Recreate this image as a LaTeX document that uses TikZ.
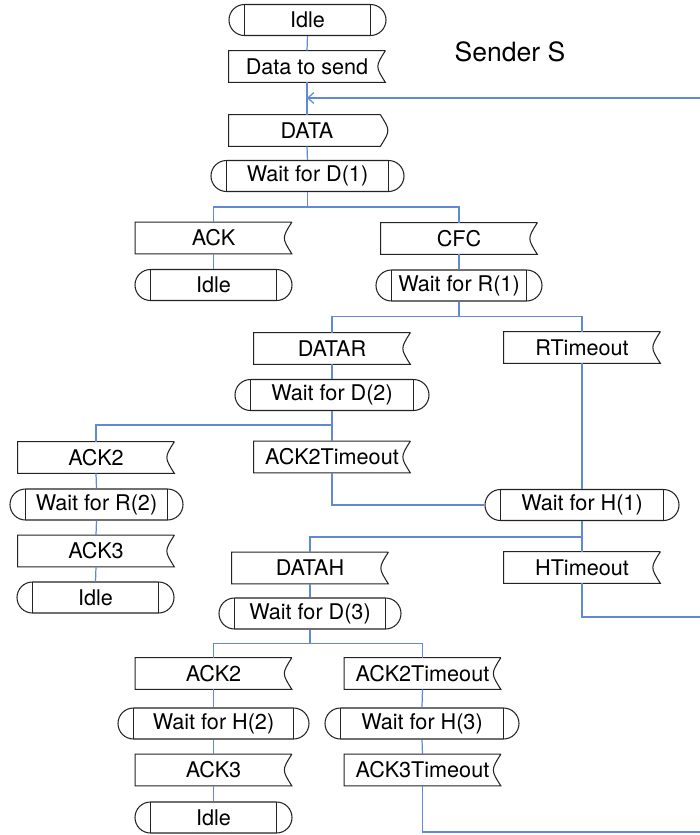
\documentclass[tikz,border=0pt]{standalone}
\usepackage{fontspec}
\setmainfont{TeX Gyre Heros}
\usepackage{tikz}
\usetikzlibrary{arrows.meta,calc,shapes.misc}
\definecolor{linkblue}{RGB}{96,138,216}
\definecolor{outline}{RGB}{35,35,35}

\tikzset{
  every node/.style={font=\fontsize{12.3}{14}\selectfont},
  state/.style={rounded rectangle, draw=outline, line width=0.6pt,
    minimum height=0.62cm, minimum width=3.14cm, inner sep=0pt,
    path picture={\draw[outline, line width=0.6pt]
      ($(path picture bounding box.north west)+(0.31,0)$) to ($(path picture bounding box.south west)+(0.31,0)$)
      ($(path picture bounding box.north east)+(-0.31,0)$) to ($(path picture bounding box.south east)+(-0.31,0)$);}},
  input/.style={minimum width=3.12cm, minimum height=0.62cm, inner sep=0pt,
    append after command={\pgfextra{\draw[outline, line width=0.6pt]
      (\tikzlastnode.north east) to (\tikzlastnode.north west) to (\tikzlastnode.south west)
      to (\tikzlastnode.south east) .. controls ($(\tikzlastnode.east)+(-0.2,0)$) .. (\tikzlastnode.north east);}}},
  output/.style={minimum width=3.12cm, minimum height=0.62cm, inner sep=0pt,
    append after command={\pgfextra{\draw[outline, line width=0.6pt]
      ($(\tikzlastnode.north east)+(-0.1,0)$) to (\tikzlastnode.north west) to (\tikzlastnode.south west)
      to ($(\tikzlastnode.south east)+(-0.1,0)$) .. controls ($(\tikzlastnode.east)+(0.1,0)$) .. ($(\tikzlastnode.north east)+(-0.1,0)$);}}},
  link/.style={draw=linkblue, line width=0.7pt}
}

\begin{document}
\begin{tikzpicture}
    %% Background
    \useasboundingbox (0,0) rectangle (14,-16.7);
    %% Title
    \node[font=\fontsize{15.1}{18}\selectfont] (title) at (10.2,-1.04) {Sender S};
    %% Main column
    \node[state] (idleA) at (6.15,-0.40) {Idle};
    \node[input] (send) at (6.14,-1.33) {Data to send};
    \node[output] (data) at (6.14,-2.61) {DATA};
    \node[state, minimum width=3.86cm] (waitD1) at (6.15,-3.52) {Wait for D(1)};
    \node[input] (ack) at (4.27,-4.76) {ACK};
    \node[state] (idleB) at (4.27,-5.70) {Idle};
    \node[input] (cfc) at (9.18,-4.77) {CFC};
    \node[state, minimum width=3.32cm] (waitR1) at (9.18,-5.71) {Wait for R(1)};
    %% Retransmission branch
    \node[input] (datar) at (6.64,-6.97) {DATAR};
    \node[input] (rtime) at (11.64,-6.95) {RTimeout};
    \node[state, minimum width=3.88cm] (waitD2) at (6.64,-7.90) {Wait for D(2)};
    \node[input] (ack2A) at (1.92,-9.15) {ACK2};
    \node[input] (ack2tA) at (6.64,-9.14) {ACK2Timeout};
    \node[state, minimum width=3.46cm] (waitR2) at (1.93,-10.09) {Wait for R(2)};
    \node[input] (ack3A) at (1.92,-11.02) {ACK3};
    \node[state] (idleC) at (1.91,-11.95) {Idle};
    %% Helper branch
    \node[state, minimum width=3.88cm] (waitH1) at (11.64,-10.10) {Wait for H(1)};
    \node[input] (datah) at (6.20,-11.36) {DATAH};
    \node[input] (htime) at (11.64,-11.35) {HTimeout};
    \node[state, minimum width=3.64cm] (waitD3) at (6.20,-12.27) {Wait for D(3)};
    \node[input] (ack2B) at (4.27,-13.47) {ACK2};
    \node[input] (ack2tB) at (8.45,-13.47) {ACK2Timeout};
    \node[state, minimum width=3.82cm] (waitH2) at (4.27,-14.47) {Wait for H(2)};
    \node[state, minimum width=3.88cm] (waitH3) at (8.44,-14.47) {Wait for H(3)};
    \node[input] (ack3B) at (4.27,-15.40) {ACK3};
    \node[input] (ack3tB) at (8.45,-15.40) {ACK3Timeout};
    \node[state] (idleD) at (4.27,-16.35) {Idle};
    %% Loose ends
    \coordinate (retin) at (14,-1.96);
    \coordinate (hout) at (14,-12.34);
    \coordinate (aout) at (14,-16.64);
    %% Connectors
    \draw[link] (idleA.south) to (send.north);
    \draw[link] (send.south) to (data.north);
    \draw[link, -{Straight Barb[length=1.2mm,width=2.2mm]}] (retin) to (send.south |- retin);
    \draw[link] (data.south) to (waitD1.north);
    \draw[link] (waitD1.south) -- ++(0,-0.3) -| (ack.north);
    \draw[link] (waitD1.south) -- ++(0,-0.3) -| (cfc.north);
    \draw[link] (ack.south) to (idleB.north);
    \draw[link] (cfc.south) to (waitR1.north);
    \draw[link] (waitR1.south) -- ++(0,-0.3) -| (datar.north);
    \draw[link] (waitR1.south) -- ++(0,-0.3) -| (rtime.north);
    \draw[link] (datar.south) to (waitD2.north);
    \draw[link] (rtime.south) to (waitH1.north);
    \draw[link] (waitD2.south) -- ++(0,-0.28) -| (ack2A.north);
    \draw[link] (waitD2.south) -- ++(0,-0.28) -| (ack2tA.north);
    \draw[link] (ack2A.south) to (waitR2.north);
    \draw[link] (waitR2.south) to (ack3A.north);
    \draw[link] (ack3A.south) to (idleC.north);
    \draw[link] (ack2tA.south) |- (waitH1.west);
    \draw[link] (waitH1.south) -- ++(0,-0.32) -| (datah.north);
    \draw[link] (waitH1.south) -- ++(0,-0.32) -| (htime.north);
    \draw[link] (htime.south) |- (hout);
    \draw[link] (datah.south) to (waitD3.north);
    \draw[link] (waitD3.south) -- ++(0,-0.28) -| (ack2B.north);
    \draw[link] (waitD3.south) -- ++(0,-0.28) -| (ack2tB.north);
    \draw[link] (ack2B.south) to (waitH2.north);
    \draw[link] (waitH2.south) to (ack3B.north);
    \draw[link] (ack3B.south) to (idleD.north);
    \draw[link] (ack2tB.south) to (waitH3.north);
    \draw[link] (waitH3.south) to (ack3tB.north);
    \draw[link] (ack3tB.south) |- (aout);
\end{tikzpicture}
\end{document}
